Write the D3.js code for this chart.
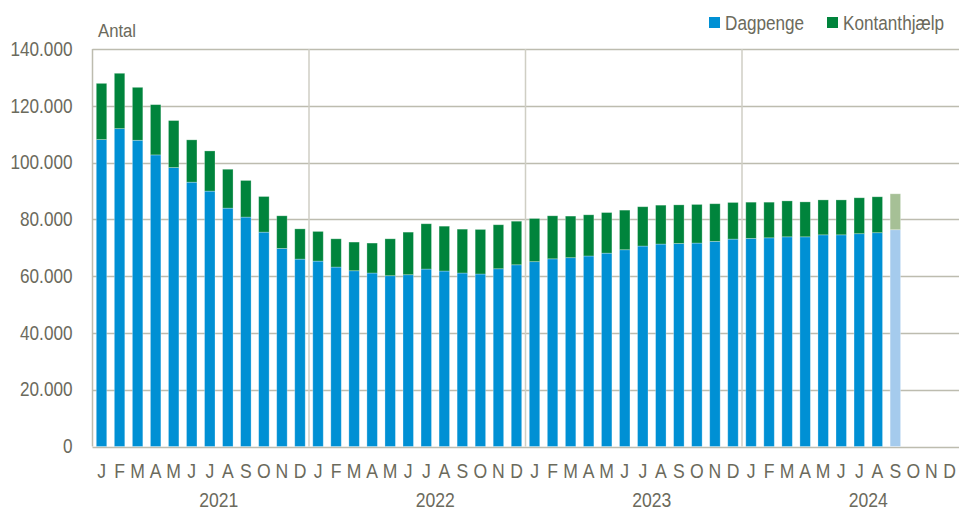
<!DOCTYPE html>
<html>
<head>
<meta charset="utf-8">
<script src="https://cdn.jsdelivr.net/npm/d3@7"></script>
<style>
    body { margin: 0; background: #fff; }
    svg { display: block; }
    text { font-family: "Liberation Sans", Arial, sans-serif; fill: #6b6a5c; }
</style>
</head>
<body>
<div id="chart"></div>
<script>
// månedsbogstaver og år
const months = ["J", "F", "M", "A", "M", "J", "J", "A", "S", "O", "N", "D"];
const years = [2021, 2022, 2023, 2024];

// antal personer (jan 2021 - sep 2024)
const dagpenge = [
    108100, 111950, 107850, 102700, 98250, 93100, 89950, 83950, 80800, 75500, 69750, 66000,
    65300, 63200, 61900, 61100, 60150, 60500, 62500, 61800, 61100, 60750, 62600, 64000,
    65100, 66100, 66500, 67100, 68100, 69300, 70600, 71300, 71500, 71650, 72250, 73050,
    73300, 73500, 73850, 73850, 74550, 74550, 74950, 75300, 76350
];
const kontanthjaelp = [
    19800, 19500, 18650, 17700, 16550, 14900, 14150, 13700, 12900, 12550, 11500, 10650,
    10450, 9950, 10100, 10550, 13000, 15000, 15950, 15800, 15450, 15700, 15500, 15350,
    15200, 15150, 14650, 14500, 14300, 13950, 13850, 13700, 13600, 13600, 13250, 12900,
    12750, 12550, 12650, 12300, 12300, 12300, 12650, 12650, 12650
];
// sidste måned er foreløbig (lysere farver)
const foreloebige = 1;

const yTicks = [0, 20000, 40000, 60000, 80000, 100000, 120000, 140000];

const width = 959, height = 511;
const margin = { top: 49, right: 0, bottom: 64, left: 92.5 };
const colors = { dagpenge: "#0090d4", kontanthjaelp: "#00843c" };
const lightColors = { dagpenge: "#a5cbed", kontanthjaelp: "#a6c096" };
const squeeze = 0.88; // teksten er smallere i originalen

// alle måneder som nøgler
const keys = [];
years.forEach(y => months.forEach((m, i) => keys.push(y + "-" + i)));

const data = dagpenge.map((d, i) => ({
    key: keys[i],
    dagpenge: d,
    kontanthjaelp: kontanthjaelp[i],
    foreloebig: i >= dagpenge.length - foreloebige
}));

const svg = d3.select("#chart").append("svg")
    .attr("width", width)
    .attr("height", height);

const x = d3.scaleBand()
    .domain(keys)
    .range([margin.left, width - 0.5])
    .paddingInner(0.42)
    .paddingOuter(0.21);

const xYear = d3.scaleBand()
    .domain(years)
    .range([margin.left, width - 0.5]);

const y = d3.scaleLinear()
    .domain([0, 140000])
    .range([height - margin.bottom - 0.5, margin.top]);

const da = d3.formatLocale({ decimal: ",", thousands: ".", grouping: [3], currency: ["", " kr."] });
const fmt = da.format(",");

// vandrette gitterlinjer
svg.append("g")
    .selectAll("line")
    .data(yTicks)
    .join("line")
    .attr("x1", margin.left)
    .attr("x2", width)
    .attr("y1", d => Math.round(y(d)) + 0.5)
    .attr("y2", d => Math.round(y(d)) + 0.5)
    .attr("stroke", "#bdbcaf")
    .attr("stroke-width", 1.5);

// lodrette linjer mellem årene
svg.append("g")
    .selectAll("line")
    .data(years.slice(1))
    .join("line")
    .attr("x1", d => xYear(d))
    .attr("x2", d => xYear(d))
    .attr("y1", y(140000))
    .attr("y2", y(0))
    .attr("stroke", "#cfcec4")
    .attr("stroke-width", 1.5);

// venstre akselinje
svg.append("line")
    .attr("x1", margin.left)
    .attr("x2", margin.left)
    .attr("y1", y(140000))
    .attr("y2", y(0))
    .attr("stroke", "#bdbcaf")
    .attr("stroke-width", 1.5);

// stablede søjler
const stack = d3.stack().keys(["dagpenge", "kontanthjaelp"]);
const series = stack(data);

svg.append("g")
    .selectAll("g")
    .data(series)
    .join("g")
    .selectAll("rect")
    .data(s => s.map(d => Object.assign(d, { serie: s.key })))
    .join("rect")
    .attr("x", d => x(d.data.key))
    .attr("width", x.bandwidth())
    .attr("y", d => y(d[1]))
    .attr("height", d => y(d[0]) - y(d[1]))
    .attr("fill", d => d.data.foreloebig ? lightColors[d.serie] : colors[d.serie])
    .attr("stroke", "rgba(255,255,255,0.35)")
    .attr("stroke-width", 0.8);

// y-akse
svg.append("g")
    .attr("transform", `translate(${margin.left},0)`)
    .call(d3.axisLeft(y).tickValues(yTicks).tickFormat(fmt).tickSize(0).tickPadding(20 / squeeze))
    .call(g => g.select(".domain").remove())
    .call(g => g.selectAll("text")
        .attr("font-size", 19.5)
        .attr("transform", `scale(${squeeze},1)`)
        .style("font-family", null)
        .attr("fill", null));

// månedsbogstaver
svg.append("g")
    .attr("transform", `translate(0,${y(0)})`)
    .call(d3.axisBottom(x).tickFormat(k => months[+k.split("-")[1]]).tickSize(0).tickPadding(17))
    .call(g => g.select(".domain").remove())
    .call(g => g.selectAll("text")
        .attr("font-size", 20)
        .attr("transform", `scale(${squeeze},1)`)
        .style("font-family", null)
        .attr("fill", null));

// årstal
svg.append("g")
    .selectAll("text")
    .data(years)
    .join("text")
    .attr("transform", d => `translate(${xYear(d) + xYear.bandwidth() * 7 / 12},506.5) scale(${squeeze},1)`)
    .attr("text-anchor", "middle")
    .attr("font-size", 20)
    .text(d => d);

svg.append("text")
    .attr("transform", `translate(98,37) scale(${squeeze},1)`)
    .attr("font-size", 19)
    .text("Antal");

// legende
const legend = [
    { label: "Dagpenge", color: colors.dagpenge, x: 709 },
    { label: "Kontanthjælp", color: colors.kontanthjaelp, x: 827 }
];
const lg = svg.append("g")
    .selectAll("g")
    .data(legend)
    .join("g")
    .attr("transform", d => `translate(${d.x},17)`);
lg.append("rect")
    .attr("width", 11)
    .attr("height", 11)
    .attr("fill", d => d.color);
lg.append("text")
    .attr("transform", `translate(16,12.5) scale(${squeeze},1)`)
    .attr("font-size", 19.5)
    .text(d => d.label);
</script>
</body>
</html>
